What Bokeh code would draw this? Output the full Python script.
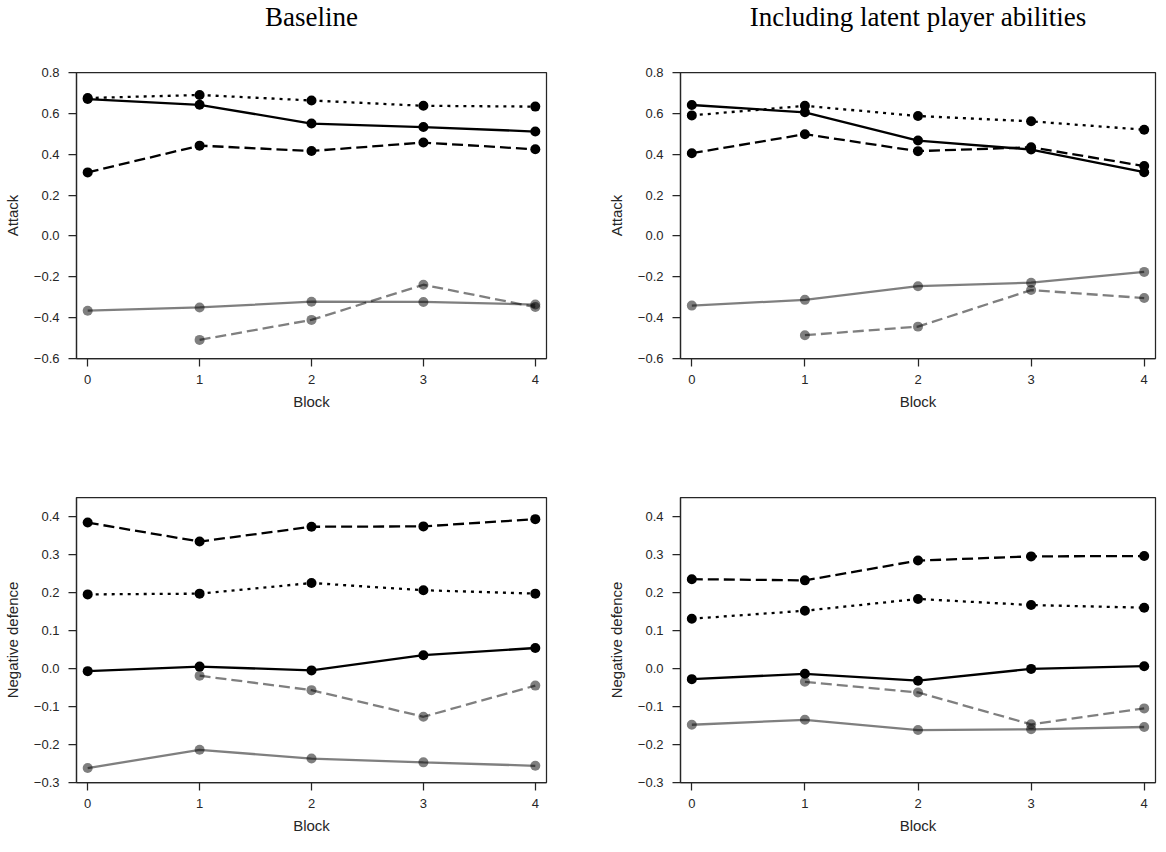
from bokeh.plotting import figure
from bokeh.layouts import column, row
from bokeh.models import Range1d, FixedTicker, CustomJSTickFormatter, Title
from bokeh.embed import file_html
from bokeh.resources import INLINE

# ---------------- data ----------------
blocks = [0, 1, 2, 3, 4]
blocks_late = [1, 2, 3, 4]

titles = ["Baseline", "Including latent player abilities"]
y_labels = ["Attack", "Negative defence"]
x_label = "Block"
x_ticks = [0, 1, 2, 3, 4]
attack_ticks = [-0.6, -0.4, -0.2, 0.0, 0.2, 0.4, 0.6, 0.8]
defence_ticks = [-0.3, -0.2, -0.1, 0.0, 0.1, 0.2, 0.3, 0.4]

# Baseline - attack
base_att_solid = [0.670, 0.642, 0.550, 0.533, 0.511]
base_att_dotted = [0.675, 0.690, 0.663, 0.637, 0.633]
base_att_dashed = [0.311, 0.442, 0.416, 0.457, 0.424]
base_att_grey_solid = [-0.366, -0.350, -0.322, -0.323, -0.336]
base_att_grey_dashed = [-0.509, -0.411, -0.239, -0.348]

# Latent abilities - attack
lat_att_solid = [0.641, 0.605, 0.467, 0.423, 0.312]
lat_att_dotted = [0.590, 0.637, 0.587, 0.561, 0.520]
lat_att_dashed = [0.405, 0.498, 0.415, 0.434, 0.342]
lat_att_grey_solid = [-0.341, -0.313, -0.246, -0.229, -0.176]
lat_att_grey_dashed = [-0.486, -0.444, -0.265, -0.304]

# Baseline - negative defence
base_def_solid = [-0.007, 0.005, -0.005, 0.035, 0.054]
base_def_dotted = [0.195, 0.197, 0.225, 0.206, 0.197]
base_def_dashed = [0.384, 0.334, 0.373, 0.374, 0.393]
base_def_grey_solid = [-0.262, -0.214, -0.237, -0.247, -0.256]
base_def_grey_dashed = [-0.019, -0.057, -0.127, -0.045]

# Latent abilities - negative defence
lat_def_solid = [-0.028, -0.014, -0.032, -0.001, 0.006]
lat_def_dotted = [0.131, 0.152, 0.183, 0.167, 0.160]
lat_def_dashed = [0.235, 0.232, 0.284, 0.295, 0.296]
lat_def_grey_solid = [-0.148, -0.135, -0.162, -0.160, -0.154]
lat_def_grey_dashed = [-0.035, -0.063, -0.147, -0.105]

# ---------------- styling ----------------
AX = "#262626"
TICK_FONT = "Liberation Sans"
TITLE_FONT = "Liberation Serif"

STYLES = {
    "solid": dict(color="black", alpha=1.0, dash="solid"),
    "dotted": dict(color="black", alpha=1.0, dash="3 5"),
    "dashed": dict(color="black", alpha=1.0, dash="11 5"),
    "grey_solid": dict(color="black", alpha=0.5, dash="solid"),
    "grey_dashed": dict(color="black", alpha=0.5, dash="11 5"),
}


def make_fig(width, height, mb_left, mb_right, mb_top, mb_bottom, y_range,
             y_ticks, y_label, title=None, title_standoff=0, spacer=0):
    p = figure(width=width, height=height, output_backend="svg", toolbar_location=None,
               x_range=Range1d(-0.1, 4.1), y_range=Range1d(*y_range),
               min_border_left=mb_left, min_border_right=mb_right,
               min_border_top=mb_top, min_border_bottom=mb_bottom)
    p.background_fill_color = "white"
    p.border_fill_color = "white"
    p.grid.visible = False
    p.outline_line_color = AX
    p.outline_line_width = 1.25
    p.outline_line_alpha = 1.0

    p.xaxis.ticker = FixedTicker(ticks=x_ticks)
    p.yaxis.ticker = FixedTicker(ticks=y_ticks)
    p.xaxis.formatter = CustomJSTickFormatter(code="return tick.toFixed(0);")
    p.yaxis.formatter = CustomJSTickFormatter(
        code="return tick.toFixed(1).replace('-', '\u2212');")
    for ax in (p.xaxis[0], p.yaxis[0]):
        ax.axis_line_color = AX
        ax.axis_line_width = 1.25
        ax.major_tick_line_color = AX
        ax.major_tick_line_width = 1.25
        ax.major_tick_out = 8
        ax.major_tick_in = 0
        ax.minor_tick_line_color = None
        ax.major_label_text_font = TICK_FONT
        ax.major_label_text_font_size = "13px"
        ax.major_label_text_color = AX
        ax.axis_label_text_font = TICK_FONT
        ax.axis_label_text_font_size = "15px"
        ax.axis_label_text_font_style = "normal"
        ax.axis_label_text_color = AX
    p.xaxis.axis_label = x_label
    p.yaxis.axis_label = y_label
    p.xaxis.major_label_standoff = 8
    p.yaxis.major_label_standoff = 9
    p.xaxis.axis_label_standoff = 6
    p.yaxis.axis_label_standoff = 10

    if title is not None:
        # empty gap next to the frame, real title outermost
        p.add_layout(Title(text=" ", text_font_size="1px", standoff=spacer), "above")
        p.add_layout(Title(text=title, align="center", vertical_align="bottom",
                           text_font=TITLE_FONT, text_font_size="27px",
                           text_font_style="normal", text_color="black",
                           standoff=title_standoff), "above")
    return p


def draw(p, series):
    for x, y, key in series:
        s = STYLES[key]
        p.line(x, y, line_color=s["color"], line_alpha=s["alpha"], line_width=2.3,
               line_dash=s["dash"])
        p.scatter(x, y, size=10, fill_color=s["color"], line_color=None,
                  fill_alpha=s["alpha"])


top_range = (-0.6, 0.8)
bot_range = (-0.3, 0.45)

p1 = make_fig(600, 432, 71, 54, 72, 74, top_range, attack_ticks, y_labels[0],
              titles[0], -2, 39)
p2 = make_fig(557, 432, 80, 2, 72, 74, top_range, attack_ticks, y_labels[0],
              titles[1], -2, 39)
p3 = make_fig(600, 404, 71, 54, 65, 51, bot_range, defence_ticks, y_labels[1])
p4 = make_fig(557, 404, 80, 2, 65, 51, bot_range, defence_ticks, y_labels[1])

draw(p1, [(blocks, base_att_grey_solid, "grey_solid"),
          (blocks_late, base_att_grey_dashed, "grey_dashed"),
          (blocks, base_att_solid, "solid"),
          (blocks, base_att_dotted, "dotted"),
          (blocks, base_att_dashed, "dashed")])
draw(p2, [(blocks, lat_att_grey_solid, "grey_solid"),
          (blocks_late, lat_att_grey_dashed, "grey_dashed"),
          (blocks, lat_att_solid, "solid"),
          (blocks, lat_att_dotted, "dotted"),
          (blocks, lat_att_dashed, "dashed")])
draw(p3, [(blocks, base_def_grey_solid, "grey_solid"),
          (blocks_late, base_def_grey_dashed, "grey_dashed"),
          (blocks, base_def_solid, "solid"),
          (blocks, base_def_dotted, "dotted"),
          (blocks, base_def_dashed, "dashed")])
draw(p4, [(blocks, lat_def_grey_solid, "grey_solid"),
          (blocks_late, lat_def_grey_dashed, "grey_dashed"),
          (blocks, lat_def_solid, "solid"),
          (blocks, lat_def_dotted, "dotted"),
          (blocks, lat_def_dashed, "dashed")])

layout = column(row(p1, p2), row(p3, p4))
open("out.html", "w").write(file_html(layout, INLINE))
